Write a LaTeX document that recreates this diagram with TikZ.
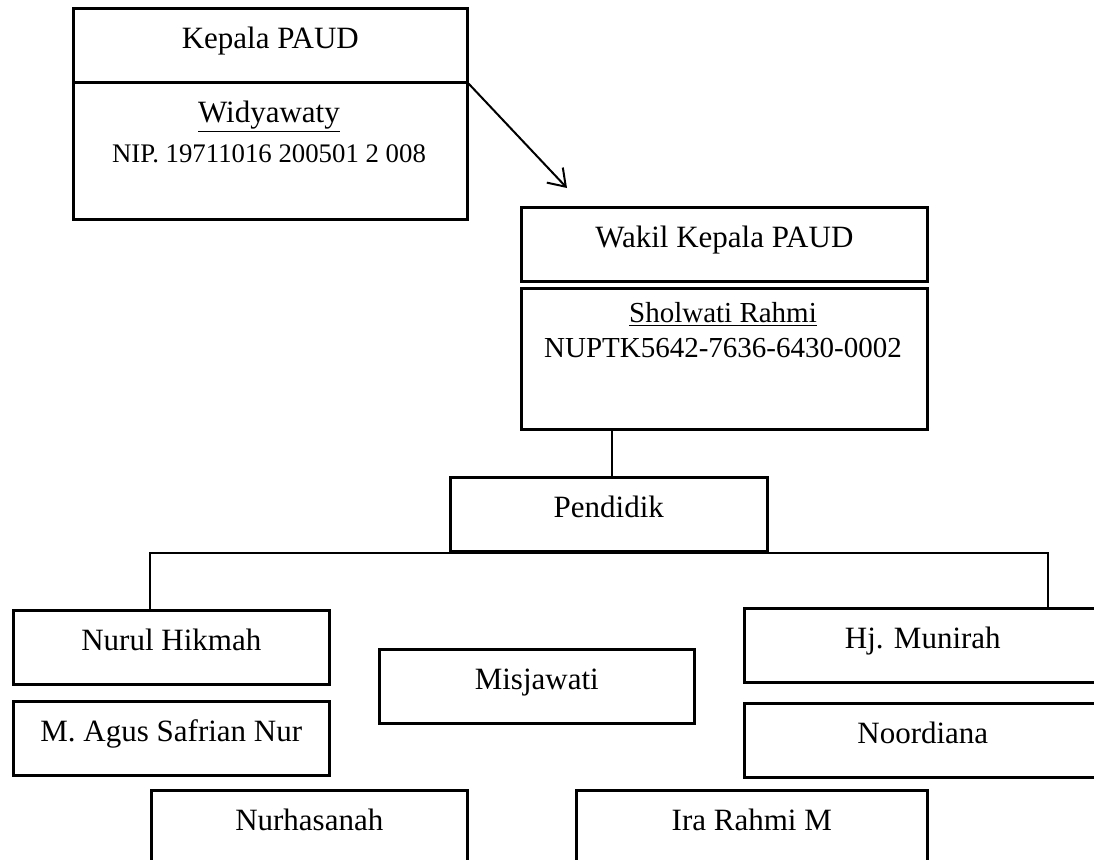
\documentclass[tikz,border=0pt]{standalone}
\usepackage{fontspec}
\setmainfont{Liberation Serif}
\usetikzlibrary{arrows.meta}
\tikzset{%
  box/.style = {draw, line width=1.3pt, inner sep=0pt, anchor=north west,
    text height=20pt, text depth=17pt, minimum width=158pt},
  namebox/.style = {draw, line width=1.3pt, inner sep=0pt, anchor=north west},
  link/.style = {line width=1pt}
}

\begin{document}
\begin{tikzpicture}[x=0.5pt, y=-0.5pt, font=\fontsize{15.5}{20}\selectfont]
  \useasboundingbox (0,0) rectangle (1094,859);
  \clip (0,0) rectangle (1094,859);

  % pimpinan
  \node[box, minimum width=197pt] (kepala) at (72,7) {Kepala PAUD};
  \node[namebox, minimum width=197pt, minimum height=68.5pt] (widya) at (72,81) {};
  \node[anchor=base, align=center] (widyatext) at (269,162)
    {\underline{Widyawaty}\\{\fontsize{13.4}{20}\selectfont NIP. 19711016 200501 2 008}};

  \node[box, minimum width=203pt] (wakil) at (520,206) {Wakil Kepala PAUD};
  \node[namebox, minimum width=203pt, minimum height=70.5pt] (sholwati) at (520,287) {};
  \node[anchor=base, align=center, font=\fontsize{14.5}{17.5}\selectfont] (sholwatitext) at (723,357)
    {\underline{Sholwati Rahmi}\\NUPTK5642-7636-6430-0002};

  \node[box, minimum width=158.5pt] (pendidik) at (449,476) {Pendidik};

  % pendidik
  \node[box] (nurul) at (12,609) {Nurul Hikmah};
  \node[box] (agus) at (12,700) {M. Agus Safrian Nur};
  \node[box, minimum width=157.5pt] (misjawati) at (378,648) {Misjawati};
  \node[box, minimum width=178.5pt] (munirah) at (743,607) {Hj. Munirah};
  \node[box, minimum width=178.5pt] (noordiana) at (743,702) {Noordiana};
  \node[box] (nurhasanah) at (150,789) {Nurhasanah};
  \node[box, minimum width=175.5pt] (ira) at (575,789) {Ira Rahmi M};

  % garis
  \coordinate (arrowend) at (567,188);
  \coordinate (drop) at (612,0);
  \coordinate (barleft) at (150,553);
  \coordinate (barright) at (1048,553);

  \draw[link, -{Straight Barb[length=8pt, width=11pt]}] (kepala.south east) -- (arrowend);
  \draw[link] (drop |- sholwati.south) -- (drop |- pendidik.north);
  \draw[link] (barleft |- nurul.north) -- (barleft) -- (barright) -- (barright |- munirah.north);
\end{tikzpicture}
\end{document}
